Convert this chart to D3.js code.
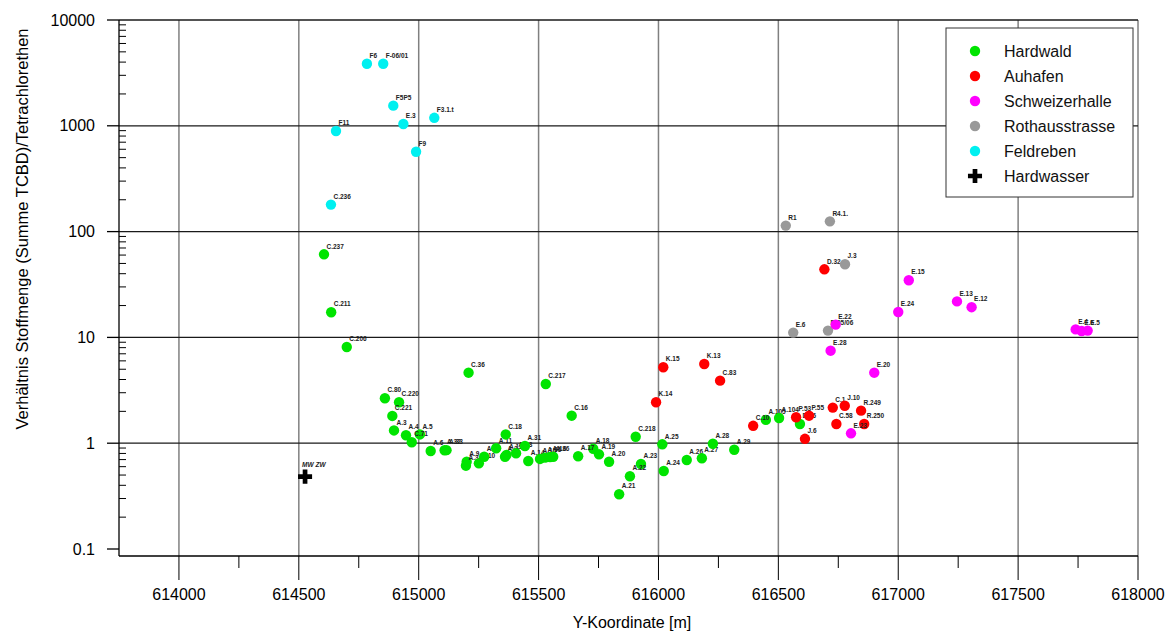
<!DOCTYPE html>
<html>
<head>
<meta charset="utf-8">
<script src="https://cdn.jsdelivr.net/npm/d3@7"></script>
<style>
  html, body { margin: 0; padding: 0; background: #fff; }
  svg { display: block; font-family: Arial, "Liberation Sans", Helvetica, sans-serif; }
</style>
</head>
<body>
<svg id="chart" width="1169" height="633"></svg>
<script>
// Sampling points: [label, Y-Koordinate (m), ratio TCBD / Tetrachlorethen]
const hardwald = [
  ["C.237", 614605, 61.0], ["C.211", 614635, 17.3], ["C.206", 614700, 8.12],
  ["C.36", 615208, 4.64], ["C.80", 614859, 2.66], ["C.220", 614918, 2.44],
  ["C.221", 614890, 1.81], ["A.3", 614897, 1.32], ["A.4", 614947, 1.19],
  ["A.5", 615005, 1.21], ["C.71", 614971, 1.02], ["A.6", 615050, 0.844],
  ["A.32", 615108, 0.857], ["A.33", 615116, 0.86], ["A.9", 615200, 0.668],
  ["A.34", 615197, 0.613], ["A.10", 615251, 0.645], ["A.1", 615273, 0.745],
  ["A.11", 615323, 0.895], ["C.18", 615363, 1.21], ["A.2", 615360, 0.745],
  ["A.12", 615366, 0.774], ["A.13", 615406, 0.803], ["A.31", 615443, 0.941],
  ["A.14", 615457, 0.679], ["A.15", 615506, 0.71], ["A.35", 615527, 0.73],
  ["A.16", 615548, 0.741], ["A.36", 615561, 0.745], ["C.217", 615530, 3.63],
  ["C.16", 615638, 1.82], ["C.218", 615905, 1.15], ["A.25", 616016, 0.976],
  ["A.18", 615728, 0.887], ["A.19", 615752, 0.785], ["A.17", 615665, 0.752],
  ["A.20", 615794, 0.668], ["A.23", 615927, 0.636], ["A.22", 615881, 0.487],
  ["A.21", 615836, 0.329], ["A.24", 616022, 0.546], ["A.26", 616118, 0.694],
  ["A.27", 616181, 0.72], ["A.28", 616227, 0.989], ["A.29", 616316, 0.868],
  ["A.105", 616448, 1.66], ["A.104", 616503, 1.73], ["D.36", 616590, 1.52]
];
const auhafen = [
  ["K.15", 616020, 5.22], ["K.13", 616191, 5.61], ["C.83", 616257, 3.90],
  ["K.14", 615990, 2.44], ["C.10", 616395, 1.46], ["D.32", 616692, 44.0],
  ["P.53", 616574, 1.76], ["P.55", 616628, 1.82], ["C.1", 616727, 2.17],
  ["J.10", 616777, 2.26], ["R.249", 616845, 2.03], ["C.58", 616742, 1.52],
  ["R.250", 616858, 1.52], ["J.6", 616611, 1.10]
];
const schweizerhalle = [
  ["E.23", 616803, 1.24], ["E.20", 616900, 4.64], ["E.24", 617000, 17.4],
  ["E.15", 617044, 34.7], ["E.13", 617245, 21.9], ["E.12", 617306, 19.3],
  ["E.4", 617740, 11.9], ["E.6", 617765, 11.5], ["E.5", 617790, 11.6],
  ["E.22", 616739, 13.2], ["E.28", 616718, 7.49]
];
const rothausstrasse = [
  ["R1", 616531, 114], ["R4.1.", 616715, 125], ["J.3", 616778, 49.1],
  ["E.6", 616562, 11.1], ["R.05/06", 616707, 11.6]
];
const feldreben = [
  ["F6", 614784, 3860], ["F-06/01", 614852, 3860], ["F5P5", 614894, 1550],
  ["E.3", 614936, 1040], ["F3.1.t", 615065, 1190], ["F11", 614655, 893],
  ["F9", 614989, 569], ["C.236", 614634, 180]
];
const hardwasser = [["MW ZW", 614526, 0.483]];

const seriesNames  = ["Hardwald", "Auhafen", "Schweizerhalle", "Rothausstrasse", "Feldreben", "Hardwasser"];
const seriesColors = ["#00e400", "#ff0000", "#ff00ff", "#999999", "#00f0f0", "#000000"];
const seriesData   = [hardwald, auhafen, schweizerhalle, rothausstrasse, feldreben, hardwasser];
// stacking order of the point layers (index into the series lists)
const drawOrder = [0, 1, 3, 2, 4, 5];

const xTicks = [614000, 614500, 615000, 615500, 616000, 616500, 617000, 617500, 618000];
const xMinorTicks = [614250, 614750, 615250, 615750, 616250, 616750, 617250, 617750];
const yTicks = [0.1, 1, 10, 100, 1000, 10000];

const xTitle = "Y-Koordinate [m]";
const yTitle = "Verhältnis Stoffmenge (Summe TCBD)/Tetrachlorethen";

(function draw() {
  // ---- layout ----
  const pLeft = 119, pRight = 1138, pTop = 20, pBottom = 549, axisY = 556;

  const svg = d3.select("#chart");
  const x = d3.scaleLinear().domain([613750, 618000]).range([pLeft, pRight]);
  const y = d3.scaleLog().domain([0.1, 10000]).range([pBottom, pTop]);

  // grid: grey verticals every 500 m, dark horizontals every decade
  svg.append("g").selectAll("line").data(xTicks).join("line")
    .attr("x1", d => x(d)).attr("x2", d => x(d))
    .attr("y1", pTop).attr("y2", axisY)
    .attr("stroke", "#808080").attr("stroke-width", 1.5);
  svg.append("g").selectAll("line").data(yTicks.filter(d => d >= 1)).join("line")
    .attr("x1", pLeft).attr("x2", pRight)
    .attr("y1", d => y(d)).attr("y2", d => y(d))
    .attr("stroke", "#1a1a1a").attr("stroke-width", 1.3);

  // y axis: major ticks outside, minor log ticks inside
  const yAxis = svg.append("g");
  yAxis.append("line").attr("x1", pLeft).attr("x2", pLeft).attr("y1", pTop).attr("y2", axisY)
    .attr("stroke", "#000").attr("stroke-width", 1.3);
  yAxis.append("g").selectAll("line").data(yTicks).join("line")
    .attr("x1", pLeft - 12).attr("x2", pLeft)
    .attr("y1", d => y(d)).attr("y2", d => y(d))
    .attr("stroke", "#000").attr("stroke-width", 1.3);
  const yMinor = [];
  for (let e = -1; e < 4; e++) for (let m = 2; m <= 9; m++) yMinor.push(m * Math.pow(10, e));
  yAxis.append("g").selectAll("line").data(yMinor).join("line")
    .attr("x1", pLeft).attr("x2", pLeft + 7)
    .attr("y1", d => y(d)).attr("y2", d => y(d))
    .attr("stroke", "#000").attr("stroke-width", 1);
  yAxis.append("g").selectAll("text").data(yTicks).join("text")
    .attr("x", pLeft - 24).attr("y", d => y(d)).attr("dy", "0.35em")
    .attr("text-anchor", "end").attr("font-size", 16).attr("fill", "#000")
    .text(d => d3.format("~g")(d));

  // x axis
  const xAxis = svg.append("g");
  xAxis.append("line").attr("x1", pLeft).attr("x2", pRight).attr("y1", axisY).attr("y2", axisY)
    .attr("stroke", "#000").attr("stroke-width", 1.3);
  xAxis.append("g").selectAll("line").data(xTicks).join("line")
    .attr("x1", d => x(d)).attr("x2", d => x(d))
    .attr("y1", axisY).attr("y2", axisY + 24)
    .attr("stroke", "#000").attr("stroke-width", 1);
  xAxis.append("g").selectAll("line").data(xMinorTicks).join("line")
    .attr("x1", d => x(d)).attr("x2", d => x(d))
    .attr("y1", axisY).attr("y2", axisY + 12)
    .attr("stroke", "#000").attr("stroke-width", 1);
  xAxis.append("g").selectAll("text").data(xTicks).join("text")
    .attr("x", d => x(d)).attr("y", 600)
    .attr("text-anchor", "middle").attr("font-size", 16).attr("fill", "#000")
    .text(d => d);

  // titles
  svg.append("text").attr("x", 632).attr("y", 628).attr("text-anchor", "middle")
    .attr("font-size", 16).text(xTitle);
  svg.append("text").attr("transform", "translate(28,229) rotate(-90)")
    .attr("text-anchor", "middle").attr("font-size", 16.5).text(yTitle);

  // points: each marker is followed by its own label, so later markers sit above earlier labels
  const marks = svg.append("g");
  const cross = d3.symbol().type(d3.symbolCross).size(110);
  drawOrder.forEach(i => {
    const isCross = seriesNames[i] === "Hardwasser";
    const pts = marks.append("g").selectAll("g").data(seriesData[i]).join("g")
      .attr("transform", d => `translate(${x(d[1])},${y(d[2])})`);
    if (isCross) {
      pts.append("path").attr("d", cross).attr("fill", seriesColors[i]);
    } else {
      pts.append("circle").attr("r", 5.2).attr("fill", seriesColors[i]);
    }
    pts.append("text")
      .attr("x", isCross ? -3 : 2.5).attr("y", isCross ? -10 : -5.8)
      .attr("font-size", 6.5).attr("font-weight", "bold")
      .attr("font-style", isCross ? "italic" : null)
      .attr("fill", "#222").text(d => d[0]);
  });

  // legend
  const lg = svg.append("g");
  lg.append("rect").attr("x", 946).attr("y", 28).attr("width", 187).attr("height", 169)
    .attr("fill", "#fff").attr("stroke", "#333").attr("stroke-width", 1);
  seriesNames.forEach((name, i) => {
    const cy = 51 + i * 25;
    if (name === "Hardwasser") {
      lg.append("path").attr("d", cross).attr("transform", `translate(975,${cy})`)
        .attr("fill", seriesColors[i]);
    } else {
      lg.append("circle").attr("cx", 975).attr("cy", cy).attr("r", 5.2).attr("fill", seriesColors[i]);
    }
    lg.append("text").attr("x", 1004).attr("y", cy).attr("dy", "0.35em")
      .attr("font-size", 16).attr("fill", "#111").text(name);
  });
})();
</script>
</body>
</html>
